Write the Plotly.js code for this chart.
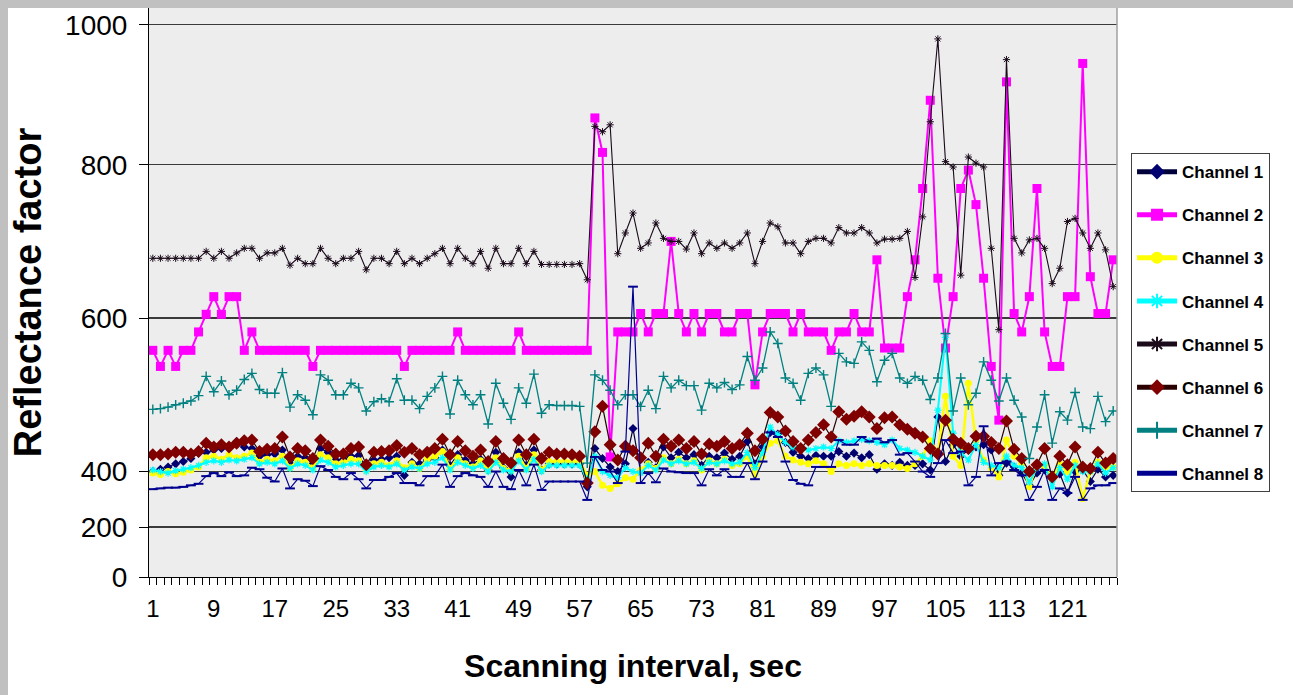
<!DOCTYPE html>
<html>
<head>
<meta charset="utf-8">
<script src="https://cdn.plot.ly/plotly-3.0.1.min.js"></script>
<style>
  html, body { margin: 0; padding: 0; background: #ffffff; }
  #frame { position: absolute; left: 0; top: 0; width: 1293px; height: 695px; box-sizing: border-box;
           border-top: 8px solid #c0c0c0; border-left: 8px solid #c0c0c0; background: #ffffff; }
  #chart { position: absolute; left: 0; top: 0; width: 1293px; height: 695px; }
</style>
</head>
<body>
<div id="frame"></div>
<div id="chart"></div>
<script>
// Scanning interval (categories 1..127)
const intervals = Array.from({length: 127}, (_, k) => k + 1);
const xTickLabels = ['1','9','17','25','33','41','49','57','65','73','81','89','97','105','113','121'];
const seriesNames = ['Channel 1','Channel 2','Channel 3','Channel 4','Channel 5','Channel 6','Channel 7','Channel 8'];
const yTickLabels = ['0','200','400','600','800','1000'];
const yTickValues = [262.5, 327.6, 400, 600, 800, 982.5];

const channel1 = [400,403,406,410,413,417,424,425,428,430,432,439,432,430,420,422,423,428,410,420,
  418,410,430,425,415,416,420,421,405,415,416,418,420,395,412,410,415,418,428,408,
  422,415,410,416,402,425,405,393,425,408,428,402,410,410,410,410,410,380,430,417,
  406,400,410,456,400,412,405,432,418,425,418,422,408,420,418,424,416,420,439,410,
  432,451,449,438,425,420,417,421,420,420,426,420,424,418,422,403,410,408,412,408,
  408,410,402,471,413,435,420,428,432,435,428,395,411,406,398,382,398,402,393,397,
  372,400,402,387,403,393,395];
const channel2 = [558,537,558,537,558,558,582,605,628,605,628,628,558,582,558,558,558,558,558,558,
  558,537,558,558,558,558,558,558,558,558,558,558,558,537,558,558,558,558,558,558,
  582,558,558,558,558,558,558,558,582,558,558,558,558,558,558,558,558,558,861,816,
  419,582,582,582,606,582,606,606,700,606,582,606,582,606,606,582,582,606,606,513,
  582,606,606,606,582,606,582,582,582,558,582,582,606,582,582,676,561,561,561,628,
  676,769,884,652,561,628,769,793,748,652,537,467,908,606,582,628,769,582,537,537,
  628,628,932,654,606,606,676];
const channel3 = [398,396,400,397,399,402,406,418,420,416,422,418,420,424,412,416,414,420,405,414,
  412,405,422,418,410,412,416,414,402,410,412,408,414,405,410,404,416,420,426,404,
  418,410,406,414,402,418,404,402,420,404,422,402,413,413,413,413,413,395,400,382,
  378,384,392,390,402,410,404,418,410,416,410,414,402,414,410,416,408,410,420,396,
  420,437,440,420,415,412,410,414,410,400,410,408,410,408,410,408,408,408,406,404,
  410,420,440,425,498,420,408,515,440,415,405,393,441,420,410,380,410,408,390,410,
  400,412,365,400,412,406,406];
const channel4 = [402,400,398,401,403,405,408,412,414,412,415,414,416,418,410,412,410,414,404,410,
  408,402,415,412,406,408,410,410,400,406,408,406,410,402,406,404,410,412,418,402,
  412,408,404,408,400,412,402,400,414,402,416,400,408,408,408,408,408,390,420,400,
  395,392,405,400,398,408,402,415,410,414,410,412,404,412,410,414,410,412,425,405,
  425,458,448,438,432,430,428,430,432,430,440,438,440,442,440,438,435,441,430,428,
  425,420,415,480,575,450,425,415,435,412,408,405,420,408,405,386,405,410,380,405,
  390,408,400,400,410,398,405];
const channel5 = [678,678,678,678,678,678,678,687,678,687,678,685,691,691,678,685,685,691,669,678,
  671,671,691,678,671,678,678,687,663,678,678,671,687,671,678,671,678,684,691,671,
  691,678,671,687,665,691,671,671,691,671,687,670,670,670,670,670,671,650,850,843,
  852,684,711,737,691,698,724,704,700,700,690,711,684,698,691,698,691,698,711,671,
  700,724,719,698,698,684,700,704,704,698,718,711,711,718,711,698,703,703,704,713,
  653,732,856,964,804,797,656,810,802,797,691,585,937,704,685,702,704,691,645,665,
  726,730,711,691,711,689,641];
const channel6 = [422,422,423,425,425,423,426,437,432,435,432,437,440,441,426,429,430,445,419,430,
  427,417,441,433,423,423,430,432,409,425,426,427,434,425,430,422,425,430,442,422,
  439,427,420,428,413,439,417,411,441,422,442,417,425,423,423,422,420,385,452,485,
  435,415,433,427,418,437,420,442,433,441,430,439,423,436,433,439,430,435,450,427,
  442,477,471,453,439,430,441,451,461,445,478,468,472,478,471,456,470,471,461,455,
  450,445,430,423,467,442,437,430,446,446,438,430,466,429,417,400,409,430,393,420,
  409,432,406,404,425,411,417];
const channel7 = [481,482,484,487,489,492,499,524,504,518,500,506,520,528,507,502,502,529,484,500,
  493,474,526,519,500,500,515,509,479,491,495,491,521,493,493,482,498,509,524,475,
  519,500,487,500,462,515,489,468,509,489,527,476,487,486,486,486,485,411,526,519,
  506,487,500,500,485,506,482,524,509,519,512,512,480,515,509,516,507,513,550,519,
  535,582,567,522,515,493,528,535,526,485,554,543,541,569,558,517,545,554,522,515,
  524,519,494,522,580,479,522,487,502,543,519,492,522,493,471,417,458,500,437,478,
  467,503,458,456,498,465,479];
const channel8 = [377,378,379,379,380,382,384,394,398,394,399,394,395,405,403,392,387,404,378,390,
  388,381,407,402,393,390,398,390,378,389,389,393,398,385,385,382,394,394,409,380,
  394,398,395,393,380,400,380,377,402,382,409,376,387,387,387,387,387,363,419,402,
  400,385,426,641,385,398,386,404,400,399,398,398,382,403,395,403,393,393,411,390,
  413,451,445,413,389,384,382,406,406,406,441,435,435,445,439,443,438,441,422,424,
  413,400,393,411,441,424,426,382,393,459,395,411,413,402,395,363,380,402,363,378,
  372,393,363,378,382,382,385];

const seriesValues = [channel1, channel2, channel3, channel4, channel5, channel6, channel7, channel8];

const styles = [
  {line: {color: '#00003a', width: 1.2}, marker: {symbol: 'diamond', size: 7, color: '#000070'}},
  {line: {color: '#ff00ff', width: 2}, marker: {symbol: 'square', size: 9, color: '#ff00ff'}},
  {line: {color: '#ffff00', width: 2.5}, marker: {symbol: 'circle', size: 7, color: '#ffff00'}},
  {line: {color: '#00ffff', width: 2}, marker: {symbol: 'asterisk-open', size: 6, line: {color: '#00d8d8', width: 1.2}}},
  {line: {color: '#1a0a1a', width: 1.1}, marker: {symbol: 'asterisk-open', size: 6, line: {color: '#5a105a', width: 1}}},
  {line: {color: '#2a0000', width: 1.2}, marker: {symbol: 'diamond', size: 10, color: '#800000'}},
  {line: {color: '#008080', width: 1.3}, marker: {symbol: 'cross-thin-open', size: 7, line: {color: '#005555', width: 1.4}}},
  {line: {color: '#000090', width: 1.2}, marker: {symbol: 'line-ew-open', size: 7, line: {color: '#0000ff', width: 2}}}
];

const traces = seriesNames.map((name, k) => ({
  type: 'scatter', mode: 'lines+markers', name: name, legendgroup: 'g' + k,
  x: intervals, y: seriesValues[k], line: styles[k].line, marker: styles[k].marker,
  hoverinfo: 'skip'
}));

const FONT = 'Liberation Sans, Arial, Helvetica, sans-serif';
const xTickVals = xTickLabels.map(Number);

const layout = {
  width: 1293, height: 695,
  margin: {l: 149, r: 176, t: 8, b: 118, pad: 0},
  paper_bgcolor: 'rgba(0,0,0,0)',
  plot_bgcolor: '#ededed',
  font: {family: FONT, color: '#000000'},
  showlegend: true,
  legend: {
    x: 1.0145, xanchor: 'left', y: 0.745, yanchor: 'top',
    bgcolor: '#ffffff', bordercolor: '#404040', borderwidth: 1,
    font: {family: FONT, size: 17, color: '#000', weight: 'bold'},
    tracegroupgap: 18, itemsizing: 'constant', traceorder: 'grouped',
    itemwidth: 40
  },
  xaxis: {
    type: 'linear', range: [0.5, 127.5], fixedrange: true,
    tickmode: 'array', tickvals: xTickVals, ticktext: xTickLabels,
    ticks: '', showgrid: false, zeroline: false,
    showline: true, linecolor: '#000', linewidth: 1,
    tickfont: {family: FONT, size: 24, color: '#000'},
    ticklabelstandoff: 10,
    minor: {tickmode: 'linear', tick0: 0.5, dtick: 1, ticks: 'outside', ticklen: 7, tickwidth: 1, tickcolor: '#000', showgrid: false},
    title: {text: 'Scanning interval, sec', font: {family: FONT, size: 32, color: '#000', weight: 'bold'}, standoff: 33}
  },
  yaxis: {
    type: 'linear', range: [262.5, 1004.3], fixedrange: true,
    tickmode: 'array', tickvals: yTickValues, ticktext: yTickLabels,
    ticks: 'outside', ticklen: 9, tickwidth: 1, tickcolor: '#000',
    showgrid: true, gridcolor: '#3a3a3a', gridwidth: 1.3, zeroline: false,
    showline: true, linecolor: '#000', linewidth: 1,
    tickfont: {family: FONT, size: 28, color: '#000'},
    ticklabelstandoff: 6,
    title: {text: 'Reflectance factor', font: {family: FONT, size: 38, color: '#000', weight: 'bold'}, standoff: 11}
  },
  shapes: [
    {type: 'line', xref: 'paper', yref: 'paper', x0: 1, x1: 1, y0: 0, y1: 1, line: {color: '#a0a0a0', width: 1.5}}
  ]
};

Plotly.newPlot('chart', traces, layout, {displayModeBar: false, staticPlot: true});
</script>
</body>
</html>
